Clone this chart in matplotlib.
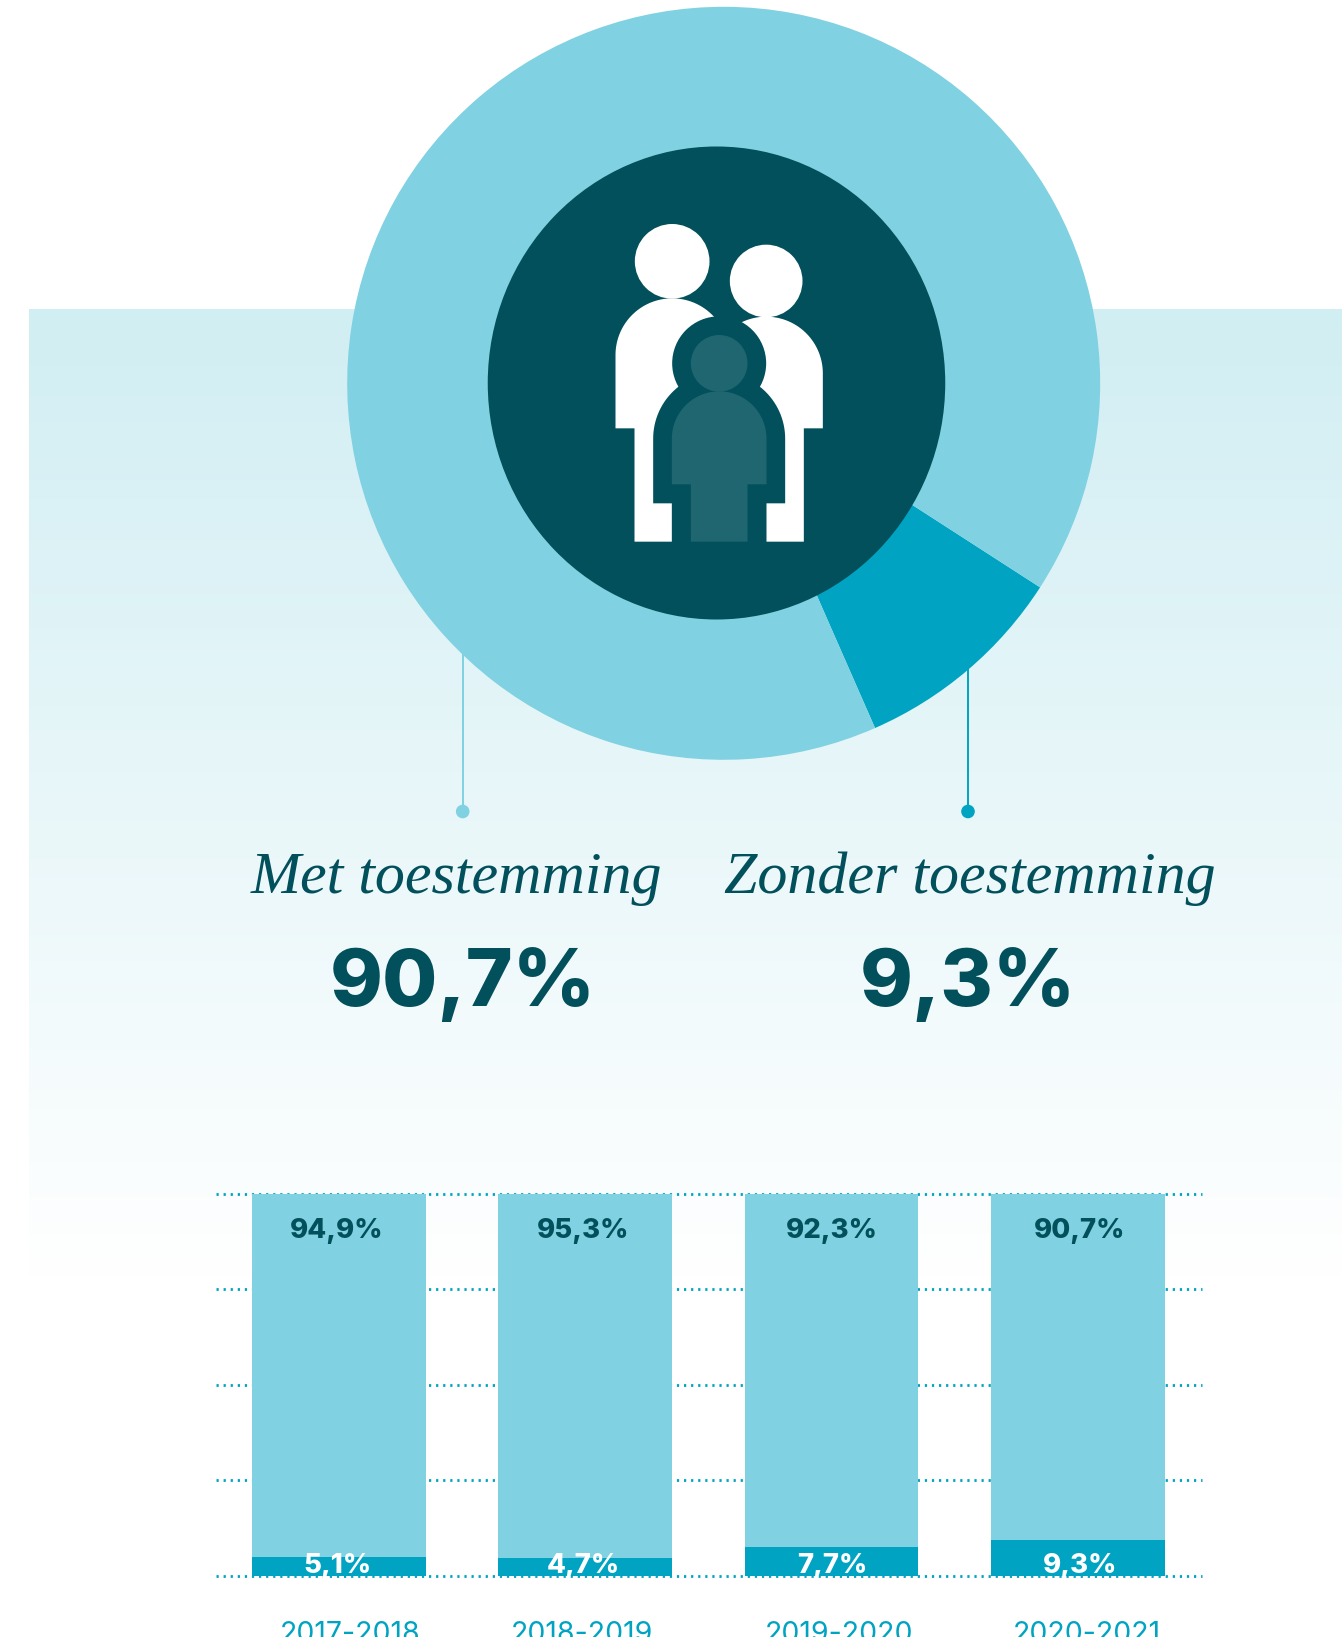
import numpy as np
import matplotlib
matplotlib.use("Agg")
import matplotlib.pyplot as plt
from matplotlib.patches import Circle, Ellipse
from matplotlib.colors import LinearSegmentedColormap

W, H = 1342, 1637

# data
years = ["2017-2018", "2018-2019", "2019-2020", "2020-2021"]
met = [94.9, 95.3, 92.3, 90.7]
zonder = [5.1, 4.7, 7.7, 9.3]
met_labels = ["94,9%", "95,3%", "92,3%", "90,7%"]
zonder_labels = ["5,1%", "4,7%", "7,7%", "9,3%"]
donut_values = [9.3, 90.7]
names = ["Met toestemming", "Zonder toestemming"]
big_labels = ["90,7%", "9,3%"]

LIGHT = "#80D1E1"
MID = "#00A4C2"
DARK = "#02505B"
CHILD = "#1F6670"
SANS = "Inter"
SERIF = "Liberation Serif"


def px(v):
    return v * 0.72


fig = plt.figure(figsize=(W / 100, H / 100), dpi=100, facecolor="white")
bg = fig.add_axes([0, 0, 1, 1], zorder=0)
bg.set_xlim(0, W)
bg.set_ylim(H, 0)
bg.axis("off")

# background gradient band
cmap = LinearSegmentedColormap.from_list("band", ["#D1EEF3", "#FFFFFF"])
bg.imshow(np.linspace(0, 1, 256).reshape(-1, 1), cmap=cmap, aspect="auto",
          extent=[29, W, 1280, 309], zorder=0)
bg.set_xlim(0, W)
bg.set_ylim(H, 0)

# leader lines and dots
bg.plot([462.7, 462.7], [640, 811.5], color=LIGHT, lw=1.4, zorder=1)
bg.plot([968, 968], [640, 811.5], color=MID, lw=1.4, zorder=1)
bg.add_patch(Circle((462.7, 811.5), 6.8, color=LIGHT, lw=0, zorder=1))
bg.add_patch(Circle((968, 811.5), 6.8, color=MID, lw=0, zorder=1))

# donut
dn = fig.add_axes([0, 0, 1, 1], zorder=1)
dn.patch.set_alpha(0)
dn.pie(donut_values, colors=[MID, LIGHT], startangle=-66.3, counterclock=True,
       center=(723.7, H - 383.3), radius=376.5,
       wedgeprops=dict(linewidth=0), frame=True)
dn.set_xlim(0, W)
dn.set_ylim(0, H)
dn.set_aspect("auto")
dn.axis("off")

# stacked bars
ax = fig.add_axes([216 / W, 1 - 1576 / H, (1202 - 216) / W, (1576 - 1193.7) / H], zorder=2)
ax.patch.set_alpha(0)
idx = np.arange(len(years))
ax.bar(idx, zonder, width=0.706, color=MID, lw=0, zorder=3)
ax.bar(idx, met, bottom=zonder, width=0.706, color=LIGHT, lw=0, zorder=3)
ax.set_xlim(-0.499, 3.504)
ax.set_ylim(0, 100)
ax.set_yticks([0, 25, 50, 75, 100])
for gy in ax.get_yticks():
    ax.axhline(gy, color=MID, lw=2.0, linestyle=(0, (0.8, 1.75)), zorder=1, clip_on=False)
ax.tick_params(length=0, labelleft=False, labelbottom=False)
for s in ax.spines.values():
    s.set_visible(False)

# icon and text layer
ic = fig.add_axes([0, 0, 1, 1], zorder=3)
ic.patch.set_alpha(0)
ic.set_xlim(0, W)
ic.set_ylim(H, 0)
ic.axis("off")
ic.add_patch(Ellipse((716.5, 383), 457.5, 473, color=DARK, lw=0))


def zx(v):
    return 579.5 + v / 3


def zy(v):
    return 200 + v / 3


def person(cx, top, r, shoulder, leg, foot, color, z, head, head_r):
    cy = top + r
    t = np.linspace(np.pi, 0, 60)
    xs = list(cx + r * np.cos(t))
    ys = list(cy - r * np.sin(t))
    xs += [cx + r, cx + leg, cx + leg, cx - leg, cx - leg, cx - r]
    ys += [shoulder, shoulder, foot, foot, shoulder, shoulder]
    ic.fill(xs, ys, color=color, lw=0, zorder=z)
    ic.add_patch(Circle(head, head_r, color=color, lw=0, zorder=z))


person(zx(278), zy(295), 170 / 3, zy(685), 113 / 3, zy(1025), "white", 3, (zx(278), zy(184)), 112 / 3)
person(zx(560), zy(350), 170 / 3, zy(685), 113 / 3, zy(1025), "white", 3, (zx(560), zy(243)), 109 / 3)
person(zx(419), zy(518), 198 / 3, zy(910), 142 / 3, zy(1040), DARK, 4, (zx(419), zy(490)), 141 / 3)
person(zx(419), zy(574), 142 / 3, zy(853), 85 / 3, zy(1025), CHILD, 5, (zx(419), zy(490)), 85 / 3)

# headings
for x, name in zip([456, 970], names):
    ic.text(x, 893, name, family=SERIF, style="italic", color=DARK,
            fontsize=px(60), ha="center", va="baseline", zorder=6)
for x, big in zip([462.7, 968], big_labels):
    ic.text(x, 1006, big, family=SANS, weight=800, color=DARK,
            fontsize=px(80), ha="center", va="baseline", zorder=6)

for t1, t2, yr, xl1, xl2 in zip(met_labels, zonder_labels, years,
                                [337, 583, 832, 1080], [350, 582, 839, 1087]):
    ic.text(xl1, 1238, t1, family=SANS, weight=800, color=DARK, fontsize=px(27.5),
            ha="center", va="baseline", zorder=6)
    ic.text(xl1, 1573, t2, family=SANS, weight=800, color="white", fontsize=px(27.5),
            ha="center", va="baseline", zorder=6)
    ic.text(xl2, 1642, yr, family=SANS, color=MID, fontsize=px(28.5), weight="normal",
            ha="center", va="baseline", zorder=6)

fig.savefig("out.png", dpi=100, facecolor="white")
